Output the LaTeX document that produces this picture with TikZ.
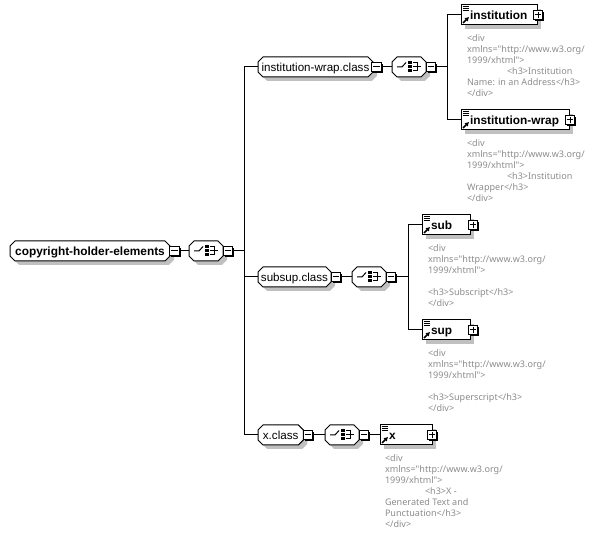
\documentclass[tikz,border=0pt]{standalone}
\usepackage{fontspec}
\setmainfont{Liberation Sans}
\newfontfamily\docfont{Noto Sans}
\usetikzlibrary{shadows,arrows.meta}
\definecolor{shadowgray}{HTML}{C0C0C0}
\definecolor{docgray}{HTML}{8C8C8C}
\makeatletter
\pgfdeclareshape{octbox}{
    \inheritsavedanchors[from=rectangle]
    \inheritanchorborder[from=rectangle]
    \inheritanchor[from=rectangle]{center}
    \inheritanchor[from=rectangle]{north}
    \inheritanchor[from=rectangle]{south}
    \inheritanchor[from=rectangle]{east}
    \inheritanchor[from=rectangle]{west}
    \backgroundpath{
        \southwest \pgf@xa=\pgf@x \pgf@ya=\pgf@y
        \northeast \pgf@xb=\pgf@x \pgf@yb=\pgf@y
        \pgf@xc=\pgf@xa \advance\pgf@xc by 3.75pt
        \pgf@yc=\pgf@ya \advance\pgf@yc by 3.75pt
        \advance\pgf@xb by -3.75pt
        \advance\pgf@yb by -3.75pt
        \pgfpathmoveto{\pgfqpoint{\pgf@xc}{\pgf@ya}}
        \pgfpathlineto{\pgfqpoint{\pgf@xb}{\pgf@ya}}
        \northeast \pgf@xa=\pgf@x \pgf@ya=\pgf@y
        \pgfpathlineto{\pgfqpoint{\pgf@xa}{\pgf@yc}}
        \pgfpathlineto{\pgfqpoint{\pgf@xa}{\pgf@yb}}
        \pgfpathlineto{\pgfqpoint{\pgf@xb}{\pgf@ya}}
        \pgfpathlineto{\pgfqpoint{\pgf@xc}{\pgf@ya}}
        \southwest \pgf@xa=\pgf@x
        \pgfpathlineto{\pgfqpoint{\pgf@xa}{\pgf@yb}}
        \pgfpathlineto{\pgfqpoint{\pgf@xa}{\pgf@yc}}
        \pgfpathclose
    }
}
\makeatother
\newcommand{\seqicon}[1]{
    \draw[line width=0.75pt] ([xshift=-12*0.75pt]#1.center) -- ++(5,0) -- ++(4,-4.5);
    \draw[line width=0.75pt] ([xshift=4*0.75pt]#1.center) -- ++(8,0);
    \draw[line width=0.75pt] ([xshift=4*0.75pt,yshift=4*0.75pt]#1.center) -- ++(4,0) -- ++(0,8) -- ++(-4,0);
    \foreach \offset in {-4,0,4} {
        \fill ([xshift=1*0.75pt,yshift=\offset*0.75pt]#1.center) +(-1.7,-1.5) rectangle +(1.7,1.5);
    }
}
\newcommand{\elemicon}[1]{
    \foreach \offset in {2,4,6} {
        \draw[line width=0.75pt] ([xshift=1.5*0.75pt,yshift=-\offset*0.75pt]#1.north west) -- ++(6,0);
    }
    \draw[line width=1.3pt,-{Latex[length=3pt,width=3.8pt]}] ([xshift=2*0.75pt,yshift=2*0.75pt]#1.south west) -- ++(6,-6);
}
\begin{document}
\begin{tikzpicture}[
        x=0.75pt, y=-0.75pt,
        every node/.style={inner sep=0pt, outer sep=0pt},
        group/.style={octbox, draw, fill=white, line width=0.75pt, minimum height=15pt, text height=7.5pt, text depth=1.3pt, anchor=west, font=\fontsize{8.7}{11}\selectfont, drop shadow={shadow xshift=3pt, shadow yshift=-3pt, fill=shadowgray, opacity=1}},
        compositor/.style={group, minimum width=25.5pt},
        element/.style={rectangle, draw, fill=white, line width=0.75pt, minimum height=15pt, text height=7.5pt, text depth=1.3pt, anchor=west, align=left, font=\fontsize{8.9}{11}\selectfont\bfseries, drop shadow={shadow xshift=3pt, shadow yshift=-3pt, fill=shadowgray, opacity=1}},
        toggle/.style={rectangle, draw, fill=white, line width=0.75pt, minimum size=7pt, drop shadow={shadow xshift=1.2pt, shadow yshift=-1.2pt, fill=black, opacity=1}},
        doc/.style={anchor=north west, align=left, text=docgray, font=\docfont\fontsize{6.8}{8.25}\selectfont},
        link/.style={line width=0.75pt}
    ]
    \useasboundingbox (0,0) rectangle (594,534);
    % root
    \node[group, minimum width=120pt, font=\fontsize{8.9}{11}\selectfont\bfseries] (root) at (10,251) {copyright-holder-elements};
    \node[toggle] (rootminus) at (174.5,251) {};
    \node[compositor] (rootseq) at (189,251) {};
    \node[toggle] (rootseqminus) at (228,251) {};
    \coordinate (rootjoin) at (244,251);
    % groups
    \node[group, minimum width=86.25pt] (wrapclass) at (258,67) {institution-wrap.class};
    \node[toggle] (wrapminus) at (376.5,67) {};
    \node[compositor] (wrapseq) at (392,67) {};
    \node[toggle] (wrapseqminus) at (431,67) {};
    \coordinate (wrapjoin) at (447,67);
    \node[group, minimum width=54.75pt] (subsupclass) at (258,277) {subsup.class};
    \node[toggle] (subsupminus) at (336,277) {};
    \node[compositor] (subsupseq) at (352,277) {};
    \node[toggle] (subsupseqminus) at (391,277) {};
    \coordinate (subsupjoin) at (408,277);
    \node[group, minimum width=34pt] (xclass) at (258,435) {x.class};
    \node[toggle] (xminus) at (308,435) {};
    \node[compositor] (xseq) at (325,435) {};
    \node[toggle] (xseqminus) at (364,435) {};
    % elements
    \node[element, text width=57pt] (institution) at (461,15) {\hspace*{6.75pt}institution};
    \node[toggle] (institutionplus) at (538,15) {};
    \node[element, text width=81pt] (institutionwrap) at (461,120) {\hspace*{6.75pt}institution-wrap};
    \node[toggle] (institutionwrapplus) at (570,120) {};
    \node[element, text width=36pt] (sub) at (422,225) {\hspace*{6.75pt}sub};
    \node[toggle] (subplus) at (473,225) {};
    \node[element, text width=36pt] (sup) at (422,330) {\hspace*{6.75pt}sup};
    \node[toggle] (supplus) at (473,330) {};
    \node[element, text width=39pt] (x) at (380,435) {\hspace*{6.75pt}x};
    \node[toggle] (xplus) at (432,435) {};
    % connectors
    \draw[link] (rootminus) -- (rootseq);
    \draw[link] (rootseqminus) -- (rootjoin);
    \draw[link] (rootjoin) |- (wrapclass.west);
    \draw[link] (rootjoin) -- (rootjoin |- subsupclass.west) -- (subsupclass.west);
    \draw[link] (rootjoin) |- (xclass.west);
    \draw[link] (wrapminus) -- (wrapseq);
    \draw[link] (wrapseqminus) -- (wrapjoin);
    \draw[link] (wrapjoin) |- (institution.west);
    \draw[link] (wrapjoin) |- (institutionwrap.west);
    \draw[link] (subsupminus) -- (subsupseq);
    \draw[link] (subsupseqminus) -- (subsupjoin);
    \draw[link] (subsupjoin) |- (sub.west);
    \draw[link] (subsupjoin) |- (sup.west);
    \draw[link] (xminus) -- (xseq);
    \draw[link] (xseqminus) -- (x.west);
    % toggles
    \foreach \name in {rootminus,rootseqminus,wrapminus,wrapseqminus,subsupminus,subsupseqminus,xminus,xseqminus,institutionplus,institutionwrapplus,subplus,supplus,xplus} {
        \draw[line width=0.75pt] ([xshift=-2.6pt]\name.center) -- ([xshift=2.6pt]\name.center);
    }
    \foreach \name in {institutionplus,institutionwrapplus,subplus,supplus,xplus} {
        \draw[line width=0.75pt] ([yshift=-2.6pt]\name.center) -- ([yshift=2.6pt]\name.center);
    }
    \foreach \name in {rootseq,wrapseq,subsupseq,xseq} {
        \seqicon{\name}
    }
    \foreach \name in {institution,institutionwrap,sub,sup,x} {
        \elemicon{\name}
    }
    % documentation
    \node[doc] (institutiondoc) at (467,35) {<div\\xmlns="http://www.w3.org/\\1999/xhtml">\\\hspace*{30pt}<h3>Institution\\Name: in an Address</h3>\\</div>};
    \node[doc] (institutionwrapdoc) at (467,140) {<div\\xmlns="http://www.w3.org/\\1999/xhtml">\\\hspace*{30pt}<h3>Institution\\Wrapper</h3>\\</div>};
    \node[doc] (subdoc) at (428,245) {<div\\xmlns="http://www.w3.org/\\1999/xhtml">\\\mbox{}\\<h3>Subscript</h3>\\</div>};
    \node[doc] (supdoc) at (428,350) {<div\\xmlns="http://www.w3.org/\\1999/xhtml">\\\mbox{}\\<h3>Superscript</h3>\\</div>};
    \node[doc] (xdoc) at (385,455) {<div\\xmlns="http://www.w3.org/\\1999/xhtml">\\\hspace*{30pt}<h3>X -\\Generated Text and\\Punctuation</h3>\\</div>};
\end{tikzpicture}
\end{document}
